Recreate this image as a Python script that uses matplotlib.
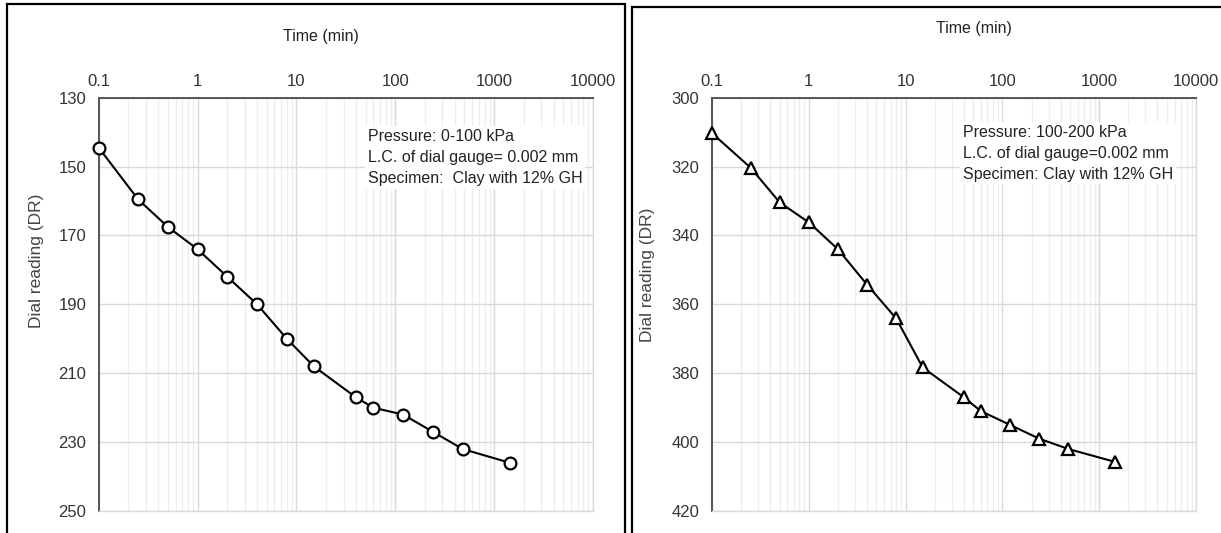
import matplotlib
matplotlib.use("Agg")
import matplotlib.pyplot as plt
from matplotlib import font_manager
from matplotlib.patches import Rectangle
from matplotlib.ticker import FixedLocator, FixedFormatter, LogLocator, NullFormatter

# ---------------- data ----------------
time_min = [0.1, 0.25, 0.5, 1, 2, 4, 8, 15, 40, 60, 120, 240, 480, 1440]
dial_0_100 = [144.5, 159.5, 167.5, 174, 182, 190, 200, 208, 217, 220, 222, 227, 232, 236]
dial_100_200 = [310.3, 320.3, 330.4, 336.2, 344, 354.3, 364.1, 378.3, 387, 391, 395, 399, 402, 405.7]

x_ticks = [0.1, 1, 10, 100, 1000, 10000]
x_tick_labels = ["0.1", "1", "10", "100", "1000", "10000"]
y_ticks_left = [130, 150, 170, 190, 210, 230, 250]
y_ticks_right = [300, 320, 340, 360, 380, 400, 420]

note_left = "Pressure: 0-100 kPa\nL.C. of dial gauge= 0.002 mm\nSpecimen:  Clay with 12% GH"
note_right = "Pressure: 100-200 kPa\nL.C. of dial gauge=0.002 mm\nSpecimen: Clay with 12% GH"

# ---------------- fonts ----------------
names = {f.name for f in font_manager.fontManager.ttflist}
narrow = "Liberation Sans Narrow" if "Liberation Sans Narrow" in names else "Liberation Sans"
regular = "Liberation Sans" if "Liberation Sans" in names else "DejaVu Sans"

W, H = 1221, 533
fig = plt.figure(figsize=(W / 100, H / 100), dpi=100)
fig.patch.set_facecolor("white")


def fx(px):
    return px / W


def fy(py):
    return 1 - py / H


def make_panel(ax_box, y, yticks, marker, note, note_xy, title_xy, ylabel_xy):
    x0, x1, y0, y1 = ax_box
    ax = fig.add_axes([fx(x0), fy(y1), fx(x1 - x0), (y1 - y0) / H])
    ax.set_xscale("log")
    ax.set_xlim(0.1, 10000)
    ax.set_ylim(yticks[-1], yticks[0])
    ax.xaxis.set_major_locator(FixedLocator(x_ticks))
    ax.xaxis.set_major_formatter(FixedFormatter(x_tick_labels))
    ax.xaxis.set_minor_locator(LogLocator(base=10, subs=range(2, 10), numticks=20))
    ax.xaxis.set_minor_formatter(NullFormatter())
    ax.set_yticks(yticks)
    ax.xaxis.tick_top()
    ax.tick_params(axis="x", which="both", length=0, pad=6.5, labelsize=12)
    ax.tick_params(axis="y", which="both", length=0, pad=9, labelsize=12)
    for lab in ax.get_xticklabels() + ax.get_yticklabels():
        lab.set_fontfamily(narrow)
        lab.set_color("#333333")
    ax.grid(True, which="major", axis="both", color="#d9d9d9", lw=1.0)
    ax.grid(True, which="minor", axis="x", color="#ededed", lw=0.9)
    ax.set_axisbelow(True)
    for s in ["bottom", "right"]:
        ax.spines[s].set_color("#d9d9d9")
        ax.spines[s].set_linewidth(1.0)
    for s in ["top", "left"]:
        ax.spines[s].set_color("#555555")
        ax.spines[s].set_linewidth(1.4)
    ax.plot(time_min, y, color="black", lw=1.5, marker=marker, ms=8.5 if marker == "o" else 9,
            mfc="white", mec="black", mew=1.6, zorder=5, clip_on=False)
    ax.text(note_xy[0], note_xy[1], note, transform=ax.transAxes, ha="left", va="center",
            fontsize=11.5, family=narrow, color="#222222", linespacing=1.5,
            bbox=dict(facecolor="white", edgecolor="none", pad=2), zorder=4)
    fig.text(fx(title_xy[0]), fy(title_xy[1]), "Time (min)", ha="center", va="center",
             fontsize=11.5, family=narrow, color="#222222")
    fig.text(fx(ylabel_xy[0]), fy(ylabel_xy[1]), "Dial reading (DR)", ha="center", va="center",
             rotation=90, fontsize=12.5, family=regular, color="#444444")
    return ax


make_panel((98.7, 593, 97.7, 511), dial_0_100, y_ticks_left, "o", note_left,
           (0.545, 0.855), (321, 37), (37, 261))
make_panel((712, 1196, 97.7, 511), dial_100_200, y_ticks_right, "^", note_right,
           (0.519, 0.866), (974, 29), (648, 275))

# panel frames
fig.add_artist(Rectangle((fx(7), fy(560)), fx(625 - 7), (560 - 4) / H, transform=fig.transFigure,
                         fill=False, edgecolor="black", lw=1.6, clip_on=False))
fig.add_artist(Rectangle((fx(632), fy(560)), fx(1300 - 632), (560 - 7) / H, transform=fig.transFigure,
                         fill=False, edgecolor="black", lw=1.6, clip_on=False))

fig.savefig("out.png", dpi=100, facecolor="white")
